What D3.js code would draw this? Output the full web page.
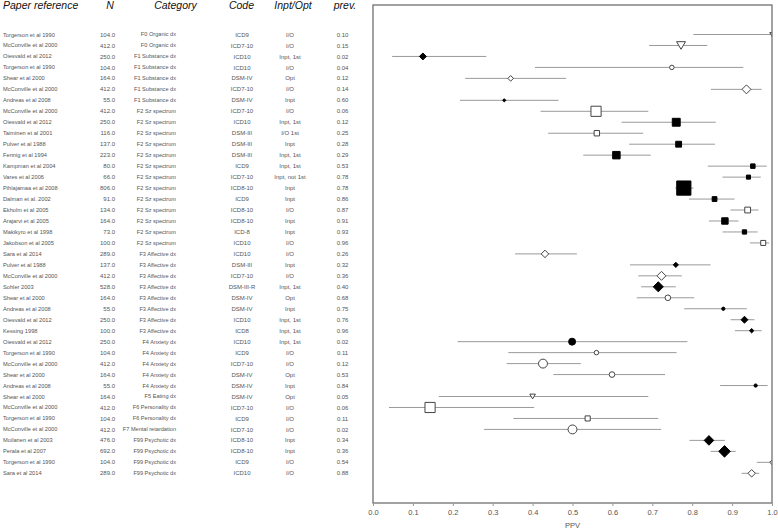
<!DOCTYPE html>
<html><head><meta charset="utf-8">
<script src="https://cdn.jsdelivr.net/npm/d3@7"></script>
<style>
html,body{margin:0;padding:0;background:#fff;}
svg{display:block;font-family:"Liberation Sans",Arial,sans-serif;}
</style></head>
<body>
<svg id="chart" width="778" height="530"></svg>
<script>
const refs = ["Torgerson et al 1990","McConville et al 2000","Oiesvald et al 2012","Torgerson et al 1990","Shear et al 2000","McConville et al 2000","Andreas et al 2008","McConville et al 2000","Oiesvald et al 2012","Taiminen et al 2001","Pulver et al 1988","Fennig et al 1994","Kampman et al 2004","Vares et al 2006","Pihlajamaa et al 2008","Dalman et al. 2002","Ekholm et al 2005","Arajarvi et al 2005","Makikyro et al 1998","Jakobson et al 2005","Sara et al 2014","Pulver et al 1988","McConville et al 2000","Sohler 2003","Shear et al 2000","Andreas et al 2008","Oiesvald et al 2012","Kessing 1998","Oiesvald et al 2012","Torgerson et al 1990","McConville et al 2000","Shear et al 2000","Andreas et al 2008","Shear et al 2000","McConville et al 2000","Torgerson et al 1990","McConville et al 2000","Moilanen et al 2003","Perala et al 2007","Torgerson et al 1990","Sara et al 2014"];
const ns = [104,412,250,104,164,412,55,412,250,116,137,223,80,66,806,91,134,164,73,100,289,137,412,528,164,55,250,100,250,104,412,164,55,164,412,104,412,476,692,104,289];
const cats = ["F0 Organic dx","F0 Organic dx","F1 Substance dx","F1 Substance dx","F1 Substance dx","F1 Substance dx","F1 Substance dx","F2 Sz spectrum","F2 Sz spectrum","F2 Sz spectrum","F2 Sz spectrum","F2 Sz spectrum","F2 Sz spectrum","F2 Sz spectrum","F2 Sz spectrum","F2 Sz spectrum","F2 Sz spectrum","F2 Sz spectrum","F2 Sz spectrum","F2 Sz spectrum","F3 Affective dx","F3 Affective dx","F3 Affective dx","F3 Affective dx","F3 Affective dx","F3 Affective dx","F3 Affective dx","F3 Affective dx","F4 Anxiety dx","F4 Anxiety dx","F4 Anxiety dx","F4 Anxiety dx","F4 Anxiety dx","F5 Eating dx","F6 Personality dx","F6 Personality dx","F7 Mental retardation","F99 Psychotic dx","F99 Psychotic dx","F99 Psychotic dx","F99 Psychotic dx"];
const codes = ["ICD9","ICD7-10","ICD10","ICD10","DSM-IV","ICD7-10","DSM-IV","ICD7-10","ICD10","DSM-III","DSM-III","DSM-III","ICD9","ICD7-10","ICD8-10","ICD9","ICD8-10","ICD8-10","ICD-8","ICD10","ICD10","DSM-III","ICD7-10","DSM-III-R","DSM-IV","DSM-IV","ICD10","ICD8","ICD10","ICD9","ICD7-10","DSM-IV","DSM-IV","DSM-IV","ICD7-10","ICD9","ICD7-10","ICD8-10","ICD8-10","ICD9","ICD10"];
const settings = ["I/O","I/O","Inpt, 1st","I/O","Opt","I/O","Inpt","I/O","Inpt, 1st","I/O 1st","Inpt","Inpt, 1st","Inpt, 1st","Inpt, not 1st","Inpt","Inpt","I/O","Inpt","Inpt","I/O","I/O","Inpt","I/O","Inpt, 1st","Opt","Inpt","Inpt, 1st","Inpt, 1st","Inpt, 1st","I/O","I/O","Opt","Inpt","Opt","I/O","I/O","I/O","Inpt","Inpt","I/O","I/O"];
const prevs = ["0.10","0.15","0.02","0.04","0.12","0.14","0.60","0.06","0.12","0.25","0.28","0.29","0.53","0.78","0.78","0.86","0.87","0.91","0.93","0.96","0.26","0.32","0.36","0.40","0.68","0.75","0.76","0.96","0.02","0.11","0.12","0.53","0.84","0.05","0.06","0.11","0.02","0.34","0.36","0.54","0.88"];
const ppv = [1.0,0.772,0.125,0.749,0.345,0.936,0.329,0.559,0.760,0.561,0.766,0.610,0.952,0.941,0.779,0.856,0.939,0.882,0.931,0.978,0.431,0.759,0.723,0.715,0.739,0.878,0.931,0.949,0.499,0.560,0.426,0.599,0.959,0.400,0.143,0.538,0.500,0.842,0.881,1.0,0.949];
const ciLow = [0.803,0.692,0.048,0.406,0.231,0.847,0.218,0.420,0.623,0.439,0.642,0.527,0.839,0.876,0.757,0.792,0.896,0.842,0.876,0.945,0.356,0.644,0.665,0.672,0.661,0.780,0.896,0.907,0.212,0.339,0.335,0.452,0.870,0.165,0.040,0.352,0.278,0.793,0.846,0.962,0.924];
const ciHigh = [1.0,0.838,0.284,0.928,0.484,0.974,0.465,0.690,0.859,0.677,0.857,0.696,0.987,0.972,0.803,0.906,0.966,0.916,0.964,0.993,0.511,0.846,0.774,0.759,0.805,0.937,0.956,0.974,0.788,0.761,0.521,0.732,0.989,0.690,0.404,0.715,0.722,0.882,0.909,1.0,0.968];
const shapes = ["triangle","triangle","diamond","circle","diamond","diamond","diamond","square","square","square","square","square","square","square","square","square","square","square","square","square","diamond","diamond","diamond","diamond","circle","circle","diamond","diamond","circle","circle","circle","circle","circle","triangle","square","square","circle","diamond","diamond","diamond","diamond"];
const headers = ["Paper reference","N","Category","Code","Inpt/Opt","prev."];
const xTicks = [0,0.1,0.2,0.3,0.4,0.5,0.6,0.7,0.8,0.9,1.0];
const axisTitle = "PPV";

const rows = refs.map((r,i)=>({i, ref:r, n:ns[i], cat:cats[i], code:codes[i], set:settings[i], prev:prevs[i], ppv:ppv[i], lo:ciLow[i], hi:ciHigh[i], shape:shapes[i], filled: settings[i].startsWith("Inpt")}));

const svg = d3.select("#chart");
const plotL = 373, plotR = 772, plotT = 5, plotB = 503;
const x = d3.scaleLinear().domain([0,1]).range([plotL, plotR]);
const y = d3.scalePoint().domain(rows.map(d=>d.i)).range([34.5, 473.3]);

// header
const hdr = svg.append("g").attr("font-style","italic").attr("font-size",10.5).attr("fill","#111");
const hdrPos = [[3,"start"],[110,"middle"],[175.5,"middle"],[241.5,"middle"],[293,"middle"],[345,"middle"]];
headers.forEach((h,k)=>{
  hdr.append("text").attr("x",hdrPos[k][0]).attr("y",9).attr("text-anchor",hdrPos[k][1]).text(h);
});

// table
const tbl = svg.append("g").attr("font-size",6).attr("fill","#555");
const tr = tbl.selectAll("g.row").data(rows).join("g").attr("transform",d=>`translate(0,${y(d.i)})`);
tr.append("text").attr("x",3).attr("dy","0.35em").attr("font-size",5.7).text(d=>d.ref);
tr.append("text").attr("x",115).attr("dy","0.35em").attr("text-anchor","end").text(d=>d3.format(".1f")(d.n));
tr.append("text").attr("x",176).attr("dy","0.35em").attr("text-anchor","end").attr("font-size",5.6).text(d=>d.cat);
tr.append("text").attr("x",242).attr("dy","0.35em").attr("text-anchor","middle").text(d=>d.code);
tr.append("text").attr("x",290).attr("dy","0.35em").attr("text-anchor","middle").text(d=>d.set);
tr.append("text").attr("x",342.5).attr("dy","0.35em").attr("text-anchor","middle").text(d=>d.prev);

// plot
svg.append("clipPath").attr("id","clip").append("rect")
  .attr("x",plotL).attr("y",plotT).attr("width",plotR-plotL).attr("height",plotB-plotT);
const pg = svg.append("g").attr("clip-path","url(#clip)");

pg.selectAll("line.ci").data(rows).join("line")
  .attr("x1",d=>x(d.lo)).attr("x2",d=>x(d.hi))
  .attr("y1",d=>y(d.i)).attr("y2",d=>y(d.i))
  .attr("stroke","#9a9a9a").attr("stroke-width",1);

function markerPath(shape, n){
  if(shape==="square"){ const s=0.5*Math.sqrt(n)/2; return `M${-s},${-s}H${s}V${s}H${-s}Z`; }
  const e = 0.44*Math.sqrt(n)/2;
  if(shape==="diamond") return `M0,${-e}L${e},0L0,${e}L${-e},0Z`;
  if(shape==="triangle") return `M${-e},${-e*0.85}H${e}L0,${e*0.85}Z`;
  return `M${e},0A${e},${e} 0 1,1 ${-e},0A${e},${e} 0 1,1 ${e},0Z`;
}
pg.selectAll("path.mk").data(rows).join("path")
  .attr("transform",d=>`translate(${x(d.ppv)},${y(d.i)})`)
  .attr("d",d=>markerPath(d.shape,d.n))
  .attr("fill",d=>d.filled?"#000":"#fff")
  .attr("stroke",d=>d.filled?"#000":"#444")
  .attr("stroke-width",1);

// frame
svg.append("rect").attr("x",plotL).attr("y",plotT).attr("width",plotR-plotL).attr("height",plotB-plotT)
  .attr("fill","none").attr("stroke","#707070").attr("stroke-width",1.3);

// axis
const ax = svg.append("g").attr("transform",`translate(0,${plotB})`)
  .call(d3.axisBottom(x).tickValues(xTicks).tickFormat(d3.format(".1f")).tickSize(3).tickPadding(4));
ax.select(".domain").remove();
ax.selectAll(".tick line").attr("stroke","#999");
ax.selectAll(".tick text").attr("fill","#555").attr("font-size",7.5).attr("font-family","Liberation Sans, Arial, sans-serif");
svg.append("text").attr("x",x(0.5)).attr("y",528).attr("text-anchor","middle")
  .attr("font-size",7.5).attr("fill","#555").text(axisTitle);
</script>
</body></html>
